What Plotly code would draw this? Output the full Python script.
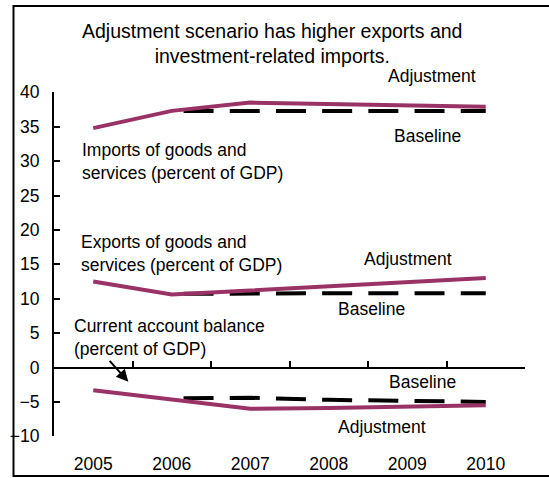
import plotly.graph_objects as go

# Years on the horizontal axis
years = ["2005", "2006", "2007", "2008", "2009", "2010"]

# Imports of goods and services (percent of GDP)
imports_adjustment = [34.8, 37.3, 38.5, 38.3, 38.1, 37.9]
imports_baseline = [None, 37.3, 37.3, 37.3, 37.3, 37.3]

# Exports of goods and services (percent of GDP)
exports_adjustment = [12.5, 10.6, 11.2, 11.8, 12.4, 13.0]
exports_baseline = [None, 10.7, 10.8, 10.8, 10.8, 10.8]

# Current account balance (percent of GDP)
ca_adjustment = [-3.3, -4.6, -6.0, -5.9, -5.7, -5.5]
ca_baseline = [None, -4.5, -4.4, -4.7, -4.9, -5.0]

y_ticks = [-10, -5, 0, 5, 10, 15, 20, 25, 30, 35, 40]

ADJ_COLOR = "#993366"
FONT = "Liberation Sans, Arial, sans-serif"
FS = 17.5
TITLE_FS = 19.5
W, H = 549, 478

x = list(range(len(years)))

fig = go.Figure()

baseline_dash = "0px,11.8px,30px,4.4px"
for series in (imports_baseline, exports_baseline, ca_baseline):
    fig.add_trace(go.Scatter(
        x=x, y=series, mode="lines",
        line=dict(color="black", width=4, dash=baseline_dash),
        hoverinfo="skip", showlegend=False))

for series in (imports_adjustment, exports_adjustment, ca_adjustment):
    fig.add_trace(go.Scatter(
        x=x, y=series, mode="lines",
        line=dict(color=ADJ_COLOR, width=4),
        hoverinfo="skip", showlegend=False))

# plot area in pixels
px_left, px_right = 54, 525
px_top, px_bottom = 92.3, 436.3
y_lo, y_hi = -10, 40
zero_px = px_top + (y_hi - 0) / (y_hi - y_lo) * (px_bottom - px_top)

x_dom = [px_left / W, px_right / W]
y_dom = [1 - px_bottom / H, 1 - px_top / H]

fig.update_layout(
    width=W, height=H,
    margin=dict(l=0, r=0, t=0, b=0, autoexpand=False),
    paper_bgcolor="white", plot_bgcolor="white",
    font=dict(family=FONT, size=FS, color="black"),
    xaxis=dict(
        domain=x_dom, range=[-0.5, 5.5], automargin=False,
        tickmode="array", tickvals=x, ticktext=years,
        showline=False, showgrid=False, zeroline=False,
        ticks="", ticklabelstandoff=15,
        tickfont=dict(family=FONT, size=FS)),
    xaxis2=dict(
        overlaying="x", anchor="free", position=1 - zero_px / H,
        domain=x_dom, range=[-0.5, 5.5], automargin=False,
        tickmode="array", tickvals=[i + 0.5 for i in x],
        showticklabels=False, showline=True, linecolor="black",
        linewidth=2, ticks="inside", ticklen=6, tickwidth=2,
        tickcolor="black", showgrid=False, zeroline=False),
    yaxis=dict(
        domain=y_dom, range=[y_lo, y_hi], automargin=False,
        tickmode="array", tickvals=y_ticks,
        showline=True, linecolor="black", linewidth=2,
        ticks="inside", ticklen=6, tickwidth=2, tickcolor="black",
        showgrid=False, zeroline=False, ticklabelstandoff=9,
        tickfont=dict(family=FONT, size=FS)),
)

# a dummy trace so the second x-axis (zero line) is rendered
fig.add_trace(go.Scatter(x=[None], y=[None], xaxis="x2", yaxis="y",
                         showlegend=False, hoverinfo="skip"))

# outer frame
fig.add_shape(type="rect", xref="paper", yref="paper",
              x0=13.5 / W, x1=1.05, y0=1 - 476 / H, y1=1 - 6 / H,
              line=dict(color="black", width=2))


def note(text, px, py, anchor="left", size=FS):
    fig.add_annotation(text=text, xref="paper", yref="paper",
                       x=px / W, y=1 - py / H, xanchor=anchor,
                       yanchor="middle", showarrow=False, align=anchor,
                       font=dict(family=FONT, size=size, color="black"))


note("Adjustment scenario has higher exports and<br>investment-related imports.",
     272, 43, "center", TITLE_FS)
note("Adjustment", 432, 76.5, "center")
note("Baseline", 427, 136, "center")
note("Imports of goods and<br>services (percent of GDP)", 79.5, 162)
note("Exports of goods and<br>services (percent of GDP)", 78.5, 253)
note("Adjustment", 408, 258.5, "center")
note("Baseline", 371, 309, "center")
note("Current account balance<br>(percent of GDP)", 71.5, 337.7)
note("Baseline", 422, 381.7, "center")
note("Adjustment", 381.5, 426.7, "center")

# arrow pointing at the current account line
fig.add_annotation(xref="paper", yref="paper", axref="pixel", ayref="pixel",
                   x=128.3 / W, y=1 - 381.7 / H, ax=-20, ay=-22.4,
                   text="", showarrow=True, arrowhead=2, arrowsize=1.2,
                   arrowwidth=2, arrowcolor="black")

fig.write_html("out.html")
